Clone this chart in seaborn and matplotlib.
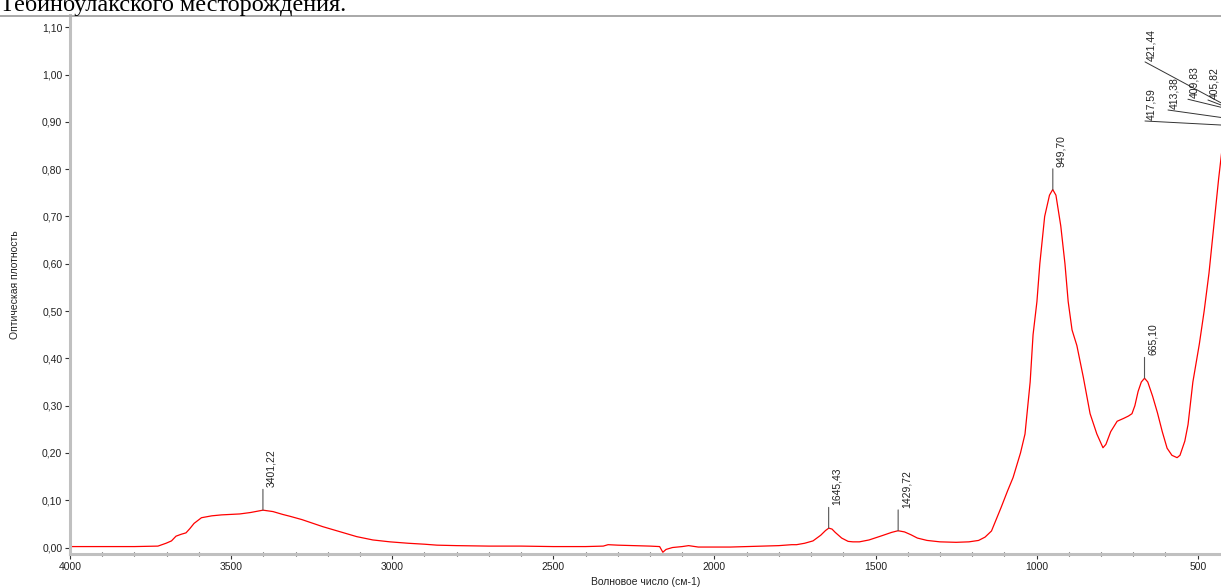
import numpy as np
import pandas as pd
import matplotlib
matplotlib.use("Agg")
import matplotlib.pyplot as plt
from matplotlib.lines import Line2D
import seaborn as sns

# ---------------- data ----------------
wavenumber = [4000, 3900, 3800, 3727, 3702, 3685, 3671, 3655, 3640, 3628, 3615, 3600, 3592,
              3560, 3530, 3500, 3473, 3440, 3401, 3370, 3340, 3317, 3280, 3250, 3215, 3180,
              3140, 3110, 3060, 3007, 2950, 2900, 2861, 2800, 2700, 2600, 2500, 2400, 2345,
              2330, 2300, 2250, 2200, 2170, 2160, 2150, 2130, 2100, 2080, 2050, 2000, 1950,
              1900, 1850, 1800, 1760, 1745, 1720, 1694, 1670, 1655, 1645, 1635, 1625, 1605,
              1585, 1570, 1550, 1520, 1480, 1450, 1430, 1410, 1390, 1370, 1340, 1300, 1250,
              1210, 1180, 1160, 1140, 1125, 1110, 1090, 1073, 1050, 1036, 1020, 1011, 999,
              990, 975, 960, 950, 940, 925, 912, 902, 890, 875, 855, 834, 813, 800, 794,
              785, 770, 750, 730, 715, 704, 695, 685, 675, 665, 655, 640, 625, 610, 595,
              580, 564, 555, 540, 530, 515, 495, 480, 465, 450, 435, 425, 415, 405, 400]
absorbance = [0.002, 0.002, 0.002, 0.003, 0.009, 0.014, 0.024, 0.028, 0.031, 0.040, 0.051,
              0.059, 0.063, 0.067, 0.069, 0.070, 0.071, 0.074, 0.079, 0.076, 0.070, 0.066,
              0.059, 0.052, 0.044, 0.037, 0.029, 0.023, 0.016, 0.012, 0.009, 0.007, 0.005,
              0.004, 0.003, 0.003, 0.002, 0.002, 0.003, 0.006, 0.005, 0.004, 0.003, 0.002,
              -0.010, -0.004, 0.000, 0.002, 0.004, 0.001, 0.001, 0.001, 0.002, 0.003, 0.004,
              0.006, 0.006, 0.009, 0.014, 0.026, 0.036, 0.041, 0.039, 0.032, 0.020, 0.013,
              0.012, 0.012, 0.016, 0.025, 0.032, 0.0355, 0.033, 0.027, 0.020, 0.015, 0.012,
              0.011, 0.012, 0.015, 0.022, 0.035, 0.060, 0.085, 0.120, 0.148, 0.200, 0.240,
              0.350, 0.450, 0.520, 0.600, 0.700, 0.745, 0.757, 0.745, 0.680, 0.600, 0.520,
              0.460, 0.427, 0.360, 0.283, 0.240, 0.220, 0.211, 0.218, 0.245, 0.267, 0.273,
              0.278, 0.283, 0.300, 0.330, 0.350, 0.358, 0.350, 0.320, 0.285, 0.245, 0.210,
              0.195, 0.190, 0.195, 0.225, 0.260, 0.350, 0.430, 0.500, 0.580, 0.680, 0.780,
              0.840, 0.880, 0.900, 0.910]

peak_labels = ["3401,22", "1645,43", "1429,72", "949,70", "665,10"]
peak_positions = [3401.22, 1645.43, 1429.72, 949.70, 665.10]

cluster_labels = ["421,44", "417,59", "413,38", "409,83", "405,82"]
cluster_positions = [421.44, 417.59, 413.38, 409.83, 405.82]
cluster_heights = [0.938, 0.893, 0.908, 0.928, 0.930]

x_ticks = [4000, 3500, 3000, 2500, 2000, 1500, 1000, 500]
x_tick_labels = ["4000", "3500", "3000", "2500", "2000", "1500", "1000", "500"]
y_ticks = [0.0, 0.1, 0.2, 0.3, 0.4, 0.5, 0.6, 0.7, 0.8, 0.9, 1.0, 1.1]
y_tick_labels = ["0,00", "0,10", "0,20", "0,30", "0,40", "0,50", "0,60", "0,70",
                 "0,80", "0,90", "1,00", "1,10"]

title_text = "Тебинбулакского месторождения."
x_label = "Волновое число (см-1)"
y_label = "Оптическая плотность"

# ---------------- figure ----------------
sns.set_theme(style="white")
plt.rcParams["font.family"] = ["Liberation Sans", "DejaVu Sans"]

W, H = 1221, 588
PT = 72 / 100  # points per pixel
fig = plt.figure(figsize=(W / 100, H / 100), dpi=100)
ax = fig.add_axes([70 / W, 34 / H, 1 - 70 / W, (554 - 15) / H])

df = pd.DataFrame({"w": wavenumber, "a": absorbance})
sns.lineplot(data=df, x="w", y="a", ax=ax, color="#ff0000", linewidth=0.9,
             estimator=None, sort=False)

ax.set_xlim(4000, 427.7)
ax.set_ylim(-0.0137, 1.126)

ax.set_xticks(x_ticks)
ax.set_xticklabels(x_tick_labels)
ax.set_xticks(np.arange(4000, 420, -100), minor=True)
ax.set_yticks(y_ticks)
ax.set_yticklabels(y_tick_labels)

for s in ["top", "right"]:
    ax.spines[s].set_visible(False)
for s in ["left", "bottom"]:
    ax.spines[s].set_color("#c0c0c0")
    ax.spines[s].set_linewidth(2.2)

ax.tick_params(axis="both", which="major", direction="out", length=3.5, width=0.8,
               color="#333333", labelsize=7.5, labelcolor="#222222", pad=2,
               left=True, bottom=True)
ax.tick_params(axis="x", which="minor", direction="inout", length=2.5, width=0.8,
               color="#333333", bottom=True)

ax.set_xlabel(x_label, fontsize=7.5, color="#222222", labelpad=4)
ax.set_ylabel(y_label, fontsize=7.5, color="#222222", labelpad=16)

# peak markers
wn_sorted = np.array(wavenumber[::-1], dtype=float)
ab_sorted = np.array(absorbance[::-1], dtype=float)
for lab, pos in zip(peak_labels, peak_positions):
    h = float(np.interp(pos, wn_sorted, ab_sorted))
    ax.annotate("", xy=(pos, h), xytext=(0, 15), textcoords="offset points",
                xycoords="data",
                arrowprops=dict(arrowstyle="-", color="#555555", lw=0.8,
                                shrinkA=0, shrinkB=0))
    ax.annotate(lab, xy=(pos, h), xytext=(6, 16.5), textcoords="offset points",
                rotation=90, ha="center", va="bottom", fontsize=7.5, color="#222222")

# crowded peaks beyond the right edge: leader lines from the labels to the peaks
cluster_offsets_px = [(-78, 42), (-79.3, 4.2), (-57.6, 8.1), (-38.8, 9.4), (-20.1, 7.7)]
for lab, pos, h, (dx, dy) in zip(cluster_labels, cluster_positions, cluster_heights,
                                 cluster_offsets_px):
    ax.annotate("", xy=(pos, h), xycoords="data",
                xytext=(dx * PT, dy * PT), textcoords="offset points",
                annotation_clip=False,
                arrowprops=dict(arrowstyle="-", color="#333333", lw=0.7,
                                shrinkA=0, shrinkB=0))
    ax.annotate(lab, xy=(pos, h), xycoords="data",
                xytext=((dx + 1.5) * PT, (dy + 1) * PT), textcoords="offset points",
                rotation=90, ha="left", va="bottom", fontsize=7.5, color="#222222",
                annotation_clip=False)

# document fragment above the chart
fig.text(0.0, 1 - 11 / H, title_text, family="Liberation Serif", fontsize=17.5,
         color="black", ha="left", va="baseline")
fig.add_artist(Line2D([0, 1], [1 - 15.5 / H, 1 - 15.5 / H], transform=fig.transFigure,
                      color="#a8a8a8", linewidth=1.4))

fig.savefig("out.png", dpi=100)
